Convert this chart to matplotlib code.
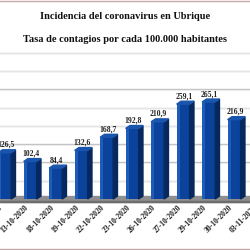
import numpy as np
import matplotlib
matplotlib.use("Agg")
import matplotlib.pyplot as plt
from matplotlib.patches import Polygon

# datos (la primera y la ultima barra estan cortadas)
fechas = ["09-10-2020", "13-10-2020", "18-10-2020", "19-10-2020", "22-10-2020",
          "23-10-2020", "26-10-2020", "27-10-2020", "29-10-2020", "30-10-2020",
          "03-11-2020"]
tasa = [126.5, 102.4, 84.4, 132.6, 168.7, 192.8, 210.9, 259.1, 265.1, 216.9]
rejilla = [50, 100, 150, 200, 250, 300, 350, 400]

titulo = "Incidencia del coronavirus en Ubrique"
subtitulo = "Tasa de contagios por cada 100.000 habitantes"

plt.rcParams['font.family'] = ['Liberation Serif', 'DejaVu Serif']

fig = plt.figure(figsize=(2.5, 2.5), dpi=100)
ax = fig.add_axes([0, 0, 1, 1])
# escala: 25.5 px por categoria, 0.366 px por unidad, suelo en y=199 px
px_cat = 25.5
px_val = 0.366
x_ini = 6.8
ax.set_xlim(-x_ini / px_cat, (250 - x_ini) / px_cat)
ax.set_ylim(-(250 - 199) / px_val, 199 / px_val)
ax.axis('off')

# lineas de rejilla y suelo
for g in rejilla:
    ax.axhline(g, color='#c4c4c4', lw=1.0, zorder=1)
    ax.axhline(g - 1.5, color='#ececec', lw=0.6, zorder=1)
ax.axhspan(-8, 8, color='#8f8f8f', zorder=2)
ax.axhspan(-8, -5, color='#6e6e6e', zorder=2)

x = np.arange(len(tasa))
ancho = 0.51
lado = 0.17
prof = 8

ax.bar(x - 0.085, tasa, width=ancho, color='#0b439c', zorder=3)
ax.bar(x - 0.085 - ancho / 2 + 0.06, tasa, width=0.12, color='#1d5cb8', zorder=3)
for xi, v in zip(x, tasa):
    x0 = xi - 0.085 + ancho / 2
    x1 = x0 + lado
    ax.add_patch(Polygon([(x0, 0), (x1, prof), (x1, v + prof), (x0, v)],
                         closed=True, color='#06285e', zorder=3))
    ax.add_patch(Polygon([(x0 - ancho, v), (x0 - ancho + lado, v + prof),
                          (x1, v + prof), (x0, v)],
                         closed=True, color='#1a55ad', zorder=3))
    ax.text(xi - 0.05, v + prof + 3, f"{v:.1f}".replace('.', ','),
            ha='center', va='bottom', fontsize=5.5, fontweight='bold',
            color='#222222', zorder=4)

for i, f in enumerate(fechas):
    ax.text(i - 0.2, -20, f, rotation=45, rotation_mode='anchor',
            ha='right', va='center', fontsize=5.5, fontweight='bold',
            color='#222222')

fig.text(0.5, 1 - 16.5 / 250, titulo, ha='center', va='center',
         fontsize=7.5, fontweight='bold', color='#111111')
fig.text(0.5, 1 - 40 / 250, subtitulo, ha='center', va='center',
         fontsize=7.5, fontweight='bold', color='#111111')

# bordes de arriba y abajo
fig.add_artist(plt.Line2D([0, 1], [0.998, 0.998], color='#c8a8a8', lw=1.0))
fig.add_artist(plt.Line2D([0, 1], [0.006, 0.006], color='#c8a8a8', lw=1.0))

fig.savefig("out.png", dpi=100, facecolor='white')
